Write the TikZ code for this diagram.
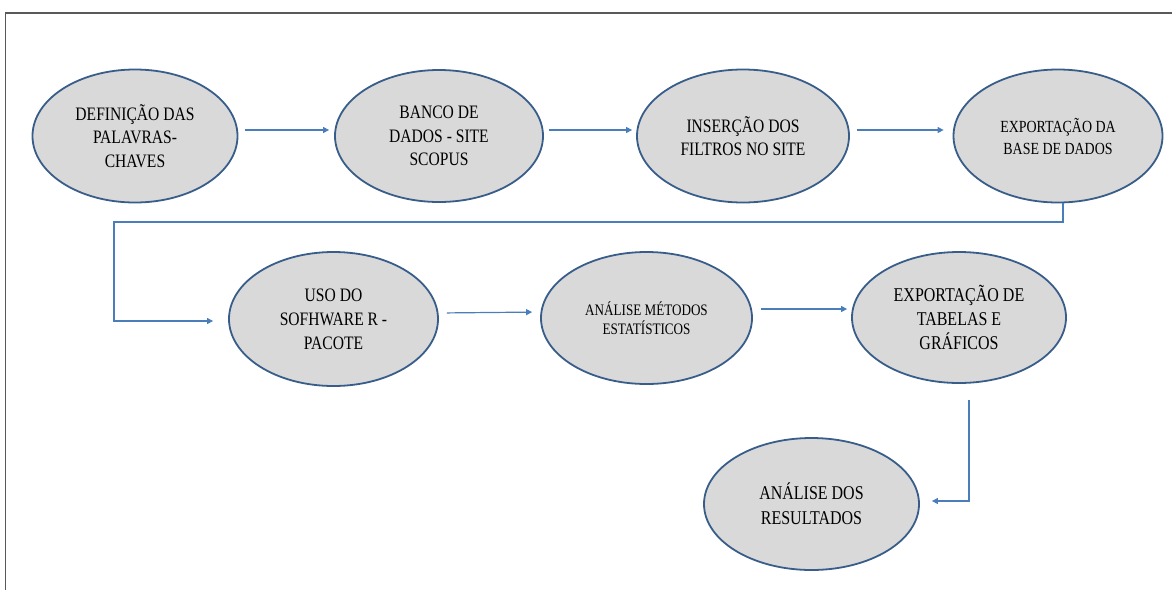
\documentclass[tikz,border=0pt]{standalone}
\usepackage{fontspec}
\setmainfont{Liberation Serif}[FakeStretch=0.82]
\usetikzlibrary{shapes.geometric,arrows.meta}
\definecolor{ellfill}{HTML}{D9D9D9}
\definecolor{elldraw}{HTML}{385D8A}
\definecolor{arrcol}{HTML}{4A7EBB}
\definecolor{framecol}{HTML}{595959}
\tikzset{
  ell/.style={ellipse, draw=elldraw, fill=ellfill, line width=1.8pt, inner sep=0pt,
              align=center, text=black, minimum width=210pt, minimum height=132pt},
  arr/.style={draw=arrcol, line width=1.2pt, -{Triangle[length=6pt,width=6pt]}},
  framestyle/.style={draw=framecol, line width=1.4pt},
}
\newcommand{\fs}[2]{\fontsize{#1}{#2}\selectfont}
\begin{document}
\begin{tikzpicture}[x=1pt,y=-1pt]
\useasboundingbox (0,0) rectangle (1172,590);
\draw[framestyle] (1172,13) -- (5.5,13) -- (5.5,590);

% row 1
\node[ell, minimum width=205pt, minimum height=133pt, font=\fs{19}{23.5}] (e1) at (135,136) {DEFINIÇÃO DAS\\PALAVRAS-\\CHAVES};
\node[ell, minimum width=208pt, font=\fs{19}{23.5}] (e2) at (439,136) {BANCO DE\\DADOS - SITE\\SCOPUS};
\node[ell, minimum width=212pt, minimum height=133pt, font=\fs{19}{23}] (e3) at (743,136) {INSERÇÃO DOS\\FILTROS NO SITE};
\node[ell, minimum width=209pt, minimum height=133pt, font=\fs{17}{22}] (e4) at (1058,136) {EXPORTAÇÃO DA\\BASE DE DADOS};

% row 2
\node[ell, minimum width=209pt, minimum height=134pt, font=\fs{19}{24}] (e5) at (333.5,319) {USO DO\\SOFHWARE R -\\PACOTE};
\node[ell, minimum width=211pt, font=\fs{16}{18.5}] (e6) at (646.5,318) {ANÁLISE MÉTODOS\\ESTATÍSTICOS};
\node[ell, minimum width=214pt, minimum height=131pt, font=\fs{19.5}{24}] (e7) at (959,317.5) {EXPORTAÇÃO DE\\TABELAS E\\GRÁFICOS};

% row 3
\node[ell, minimum width=215pt, font=\fs{19.5}{25}] (e8) at (811.5,504) {ANÁLISE DOS\\RESULTADOS};

% connectors row 1
\draw[arr, shorten <=6.5pt, shorten >=5pt] ([yshift=6pt]e1.east) -- ([yshift=6pt]e2.west);
\draw[arr, shorten <=5pt, shorten >=4pt] ([yshift=6pt]e2.east) -- ([yshift=6pt]e3.west);
\draw[arr, shorten <=7pt, shorten >=9pt] ([yshift=6pt]e3.east) -- ([yshift=6pt]e4.west);

% connector row 1 -> row 2
\coordinate (k1) at (114,222);
\draw[arr] ([xshift=5pt]e4.south) |- (k1) |- ([xshift=-15pt,yshift=-2pt]e5.west);

% connectors row 2
\draw[arr, shorten <=8pt, shorten >=8pt] ([yshift=6pt]e5.east) -- ([yshift=6pt]e6.west);
\draw[arr, shorten <=8pt, shorten >=4pt] ([yshift=9pt]e6.east) -- ([yshift=8.5pt]e7.west);

% connector row 2 -> row 3
\draw[arr] ([xshift=10pt,yshift=-16pt]e7.south) |- ([xshift=12pt,yshift=3pt]e8.east);
\end{tikzpicture}
\end{document}
